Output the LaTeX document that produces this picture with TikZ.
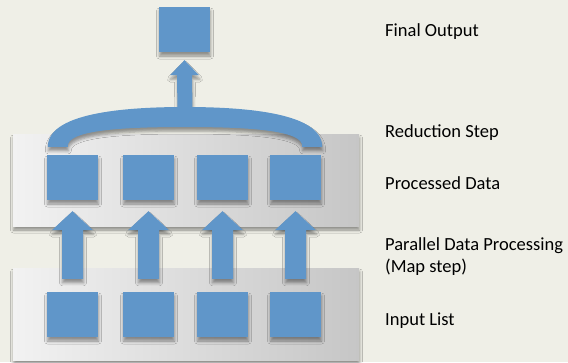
\documentclass[tikz,border=0pt]{standalone}
\usepackage{fontspec}
\setmainfont{Carlito}
\usetikzlibrary{calc,shadows.blur}
\definecolor{bg}{RGB}{239,239,231}
\definecolor{boxblue}{RGB}{96,150,201}
\definecolor{panelL}{RGB}{242,242,242}
\definecolor{panelR}{RGB}{198,198,198}

\begin{document}
\begin{tikzpicture}[x=1pt,y=-1pt,
  softshadow/.style={blur shadow={shadow xshift=0.5pt,shadow yshift=-4pt,shadow blur radius=3pt,shadow opacity=40}},
  panel/.style={rectangle, minimum width=346pt, minimum height=92pt, inner sep=0pt,
    left color=panelL, right color=panelR, draw=none, softshadow},
  item/.style={rectangle, fill=boxblue, minimum width=51pt, minimum height=45pt, inner sep=0pt, softshadow},
  blockarrow/.style={fill=boxblue, softshadow},
  label/.style={anchor=base west, font=\fontsize{18.5}{22}\selectfont, inner sep=0pt}]

% canvas
\fill[bg] (0,0) rectangle (568,362);
\useasboundingbox (0,0) rectangle (568,362);

% grey stage panels
\node[panel] (stageTop) at (186,180) {};
\node[panel] (stageBot) at (186,314) {};

% data items
\node[item] (out) at (184.5,29.5) {};
\foreach \i/\x in {1/72.5,2/148.5,3/222.5,4/295.5}{
  \node[item] (p\i) at (\x,177.5) {};
  \node[item] (in\i) at (\x,314.5) {};
}

% map arrows: input item -> processed item
\foreach \i in {1,2,3,4}{
  \fill[blockarrow]
    ($(in\i.north)+(-10.5,-13)$) -- ($(p\i.south)+(-10.5,30)$) --
    ($(p\i.south)+(-20.5,30)$) -- ($(p\i.south)+(0,11)$) --
    ($(p\i.south)+(20.5,30)$) -- ($(p\i.south)+(10.5,30)$) --
    ($(in\i.north)+(10.5,-13)$) -- cycle;
}

% reduction bracket
\coordinate (footL) at ($(p1.north west)+(1,-8)$);
\coordinate (footR) at ($(p4.north east)+(1,-8)$);
\coordinate (arctop) at (185,107);

% arrow from the bracket to the final output
\fill[blockarrow]
  ($(arctop)+(-7.5,4)$) -- ($(out.south)+(-7.5,23)$) --
  ($(out.south)+(-14.5,23)$) -- ($(out.south)+(0,8)$) --
  ($(out.south)+(14.5,23)$) -- ($(out.south)+(7.5,23)$) --
  ($(arctop)+(7.5,4)$) -- cycle;

\fill[blockarrow]
  (footL) .. controls ($(footL)+(0,-33)$) and ($(arctop)+(-65,0)$) .. (arctop)
  .. controls ($(arctop)+(65,0)$) and ($(footR)+(0,-33)$) .. (footR)
  -- ($(footR)+(-20,0)$)
  .. controls ($(footR)+(-18,-17)$) and ($(arctop)+(60,20)$) .. ($(arctop)+(0,20)$)
  .. controls ($(arctop)+(-60,20)$) and ($(footL)+(18,-17)$) .. ($(footL)+(20,0)$)
  -- cycle;

% stage labels
\node[label] (lFinal) at (385,36) {Final Output};
\node[label] (lReduce) at (385,137) {Reduction Step};
\node[label] (lProc) at (385,189) {Processed Data};
\node[label] (lMapA) at (385,250) {Parallel Data Processing};
\node[label] (lMapB) at (385,272) {(Map step)};
\node[label] (lInput) at (385,325) {Input List};
\end{tikzpicture}
\end{document}
